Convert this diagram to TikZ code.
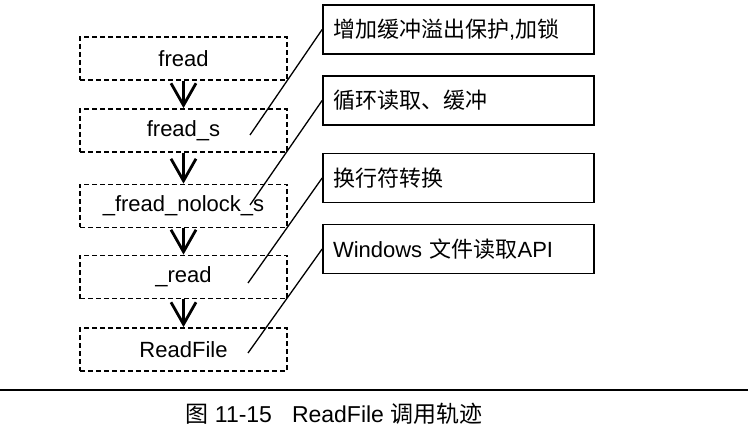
\documentclass[tikz,border=0pt]{standalone}
\usepackage{fontspec}
\setmainfont{Liberation Sans}
\newfontfamily\cjk{Noto Sans CJK SC}
\usetikzlibrary{arrows.meta}

\begin{document}
\begin{tikzpicture}[x=1pt, y=-1pt,
  func/.style={draw, dash pattern=on 5pt off 3pt, line width=1.8pt, minimum width=207pt, minimum height=43pt, inner sep=0pt, font=\fontsize{22}{26}\selectfont},
  note/.style={draw, line width=1.7pt, minimum height=49pt, text width=251pt, align=left, inner xsep=10pt, inner ysep=0pt, font=\fontsize{22}{26}\selectfont},
  call/.style={line width=2.8pt, -{Straight Barb[length=22pt, width=25pt, line width=2.8pt]}},
  lead/.style={line width=1.3pt}]
\useasboundingbox (0,0) rectangle (748,433);
% call chain
\node[func] (fread)   at (183.5,58.5)  {fread};
\node[func] (freads)  at (183.5,130.5) {fread\_s};
\node[func] (nolock)  at (183.5,206)   {\_fread\_nolock\_s};
\node[func] (read)    at (183.5,277)   {\_read};
\node[func] (readfile) at (183.5,349.5) {ReadFile};
\foreach \a/\b in {fread/freads, freads/nolock, nolock/read, read/readfile} {
 \draw[call] (\a.south) -- (\b.north);
}
% notes
\node[note] (lock)  at (458.5,29.5)  {{\cjk 增加缓冲溢出保护},{\cjk 加锁}};
\node[note] (loop)  at (458.5,100.5) {\cjk 循环读取、缓冲};
\node[note] (crlf)  at (458.5,178)   {\cjk 换行符转换};
\node[note] (winapi) at (458.5,249)  {Windows {\cjk 文件读取}API};
\coordinate (p1) at (250,135);
\coordinate (p2) at (250,205);
\coordinate (p3) at (248,283);
\coordinate (p4) at (248,353);
\draw[lead] (lock.west) -- (p1);
\draw[lead] (loop.west) -- (p2);
\draw[lead] (crlf.west) -- (p3);
\draw[lead] (winapi.west) -- (p4);
% caption
\draw[line width=1.5pt] (0,390) -- (748,390);
\node[font=\fontsize{23}{27}\selectfont] (caption) at (334,414) {{\cjk 图} 11-15\hspace{20pt}ReadFile {\cjk 调用轨迹}};
\end{tikzpicture}
\end{document}
